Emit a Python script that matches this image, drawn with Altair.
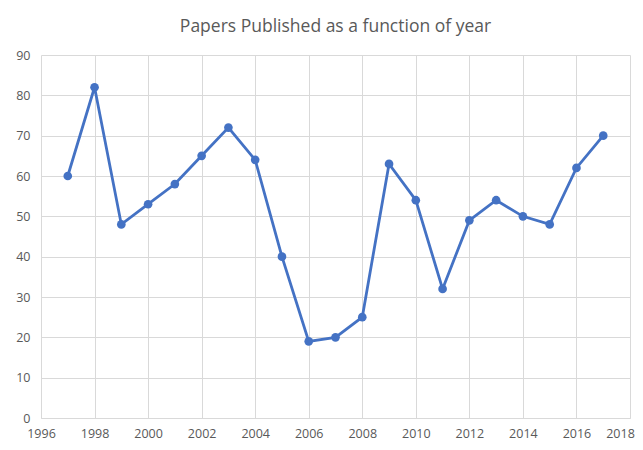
import altair as alt
import pandas as pd

years = [1997, 1998, 1999, 2000, 2001, 2002, 2003, 2004, 2005, 2006, 2007,
         2008, 2009, 2010, 2011, 2012, 2013, 2014, 2015, 2016, 2017]
papers = [60, 82, 48, 53, 58, 65, 72, 64, 40, 19, 20,
          25, 63, 54, 32, 49, 54, 50, 48, 62, 70]
x_ticks = list(range(1996, 2019, 2))
y_ticks = list(range(0, 91, 10))

df = pd.DataFrame({"year": years, "papers": papers})

color = "#4472C4"
grid = "#d9d9d9"
txt = "#595959"

x = alt.X("year:Q", scale=alt.Scale(domain=[1996, 2018], nice=False, zero=False),
          axis=alt.Axis(values=x_ticks, format="d", title=None, grid=True,
                        gridColor=grid, domainColor=grid, ticks=False,
                        labelFlush=False, labelOverlap=False,
                        labelOffset=alt.expr("datum.value == 2018 ? -10 : 0"),
                        labelColor=txt, labelFontSize=12.5, labelPadding=9,
                        labelFont="Open Sans"))
y = alt.Y("papers:Q", scale=alt.Scale(domain=[0, 90], nice=False),
          axis=alt.Axis(values=y_ticks, title=None, grid=True, gridColor=grid,
                        domain=False, ticks=False, labelColor=txt,
                        labelFlush=False,
                        labelFontSize=12.5, labelPadding=11, labelFont="Open Sans"))

line = alt.Chart(df).mark_line(color=color, strokeWidth=2.8).encode(x=x, y=y)
pts = alt.Chart(df).mark_point(color=color, filled=True, size=75, opacity=1).encode(x=x, y=y)

chart = (line + pts).properties(
    width=589, height=363,
    title=alt.TitleParams("Papers Published as a function of year", fontSize=17.5,
                          font="Open Sans", fontWeight="normal", color=txt,
                          offset=14, anchor="middle"),
    autosize=alt.AutoSizeParams(type="none"),
    padding={"left": 33, "top": 47, "right": 5, "bottom": 22},
).configure_view(stroke=None)

chart.save("out.html", embed_options={"renderer": "svg", "actions": False})
